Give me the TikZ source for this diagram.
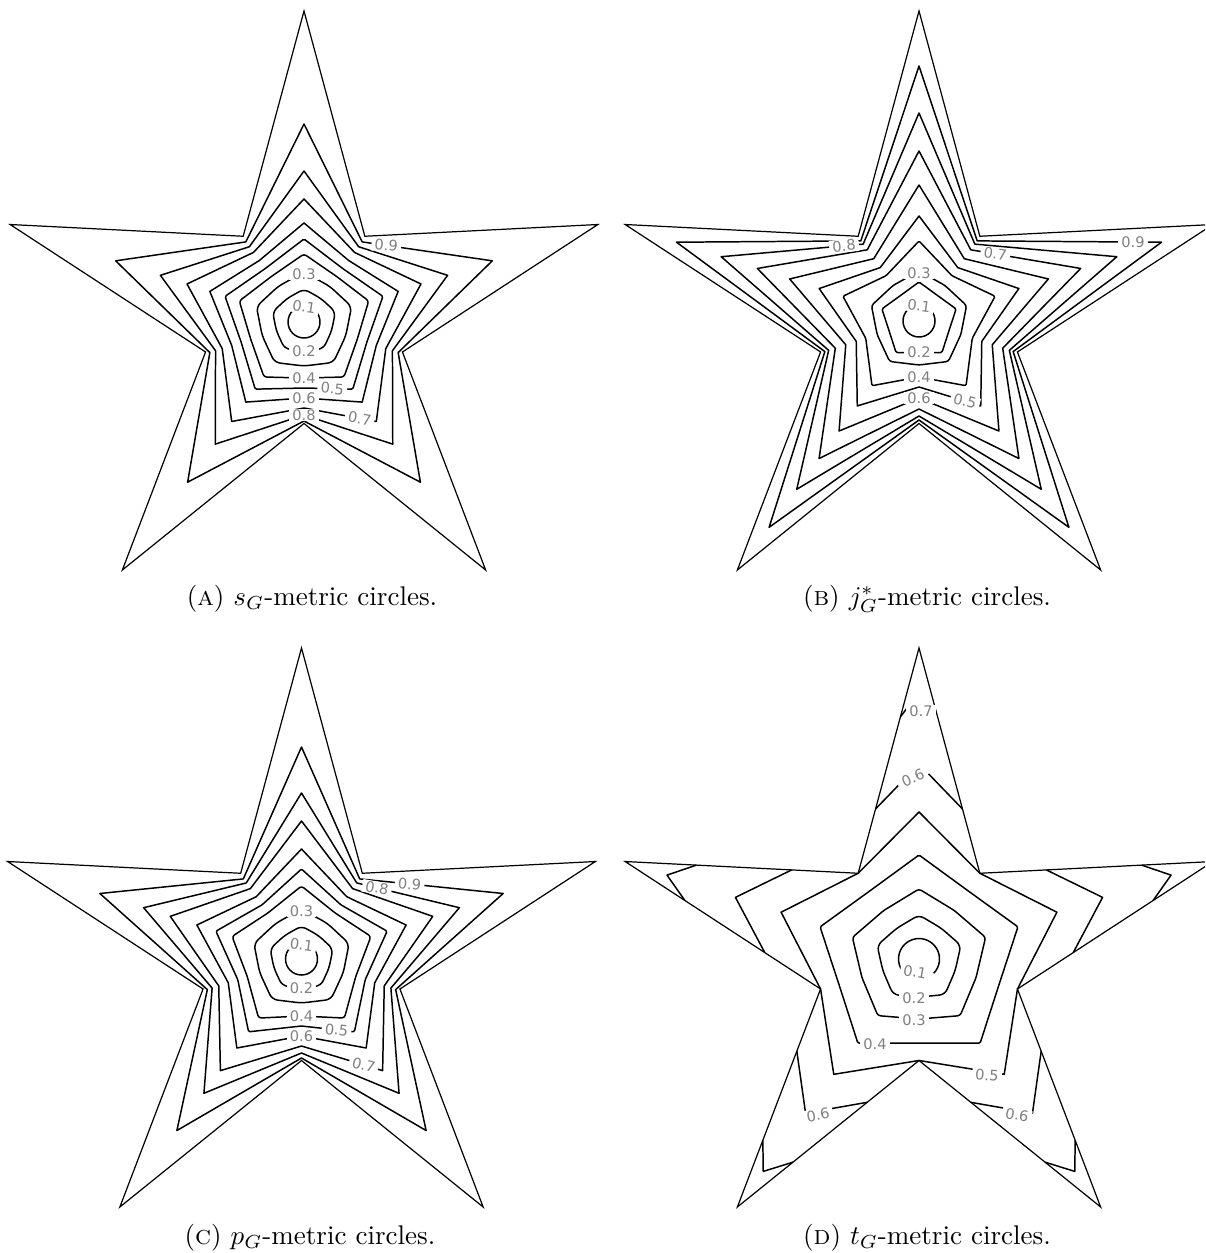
\documentclass[tikz,border=0pt]{standalone}
\usepackage{fontspec}
\newfontfamily\lblfont{DejaVu Sans}
\usetikzlibrary{calc}

% ten-point star polygon: tips at radius #2, notches at radius #3
\newcommand{\starpoly}[3][]{%
  \draw[#1] (-90:#2) -- (-54:#3) -- (-18:#2) -- (18:#3) -- (54:#2)
    -- (90:#3) -- (126:#2) -- (162:#3) -- (198:#2) -- (234:#3) -- cycle;}

\begin{document}
\begin{tikzpicture}[
x=0.37pt, y=-0.37pt,
outline/.style={line width=0.45pt},
contour/.style={line width=0.55pt, line join=round},
level/.style={font={\lblfont\fontsize{5.4}{6}\selectfont}, text=black!50, fill=white, inner xsep=1.2pt, inner ysep=0.3pt},
caption/.style={font={\fontsize{10}{12}\selectfont}, anchor=base}
]
\useasboundingbox (0,0) rectangle (1205,1253);
\clip (0,0) rectangle (1205,1253);

% (a) s_G-metric circles
\begin{scope}[shift={(304,320)}]
  \starpoly[outline]{309}{103.5}
\end{scope}
\begin{scope}[shift={(304,322)}]
  \draw[contour] (0,0) circle (16);
  \foreach \a/\b/\rc in {33/29/2, 50/44/2, 68/56/1, 83/66/0.5, 99/76/0, 123/86/0, 151/93/0, 198/99/0}
    \starpoly[contour, rounded corners=\rc pt]{\a}{\b};
  \node[level, rotate=-8] (a1) at (-90:15) {0.1};
  \node[level] (a2) at (90:29) {0.2};
  \node[level] (a3) at (-90:48) {0.3};
  \node[level] (a4) at (90:56) {0.4};
  \node[level, rotate=-5] (a5) at ($(54:83)!0.42!(90:66)$) {0.5};
  \node[level] (a6) at (90:76) {0.6};
  \node[level, rotate=-10] (a7) at ($(54:123)!0.23!(90:86)$) {0.7};
  \node[level] (a8) at (90:93) {0.8};
  \node[level, rotate=-5] (a9) at ($(-54:99)!0.185!(-18:198)$) {0.9};
\end{scope}

% (b) j*_G-metric circles
\begin{scope}[shift={(919,320)}]
  \starpoly[outline]{309}{103.5}
\end{scope}
\begin{scope}[shift={(919,321)}]
  \draw[contour] (0,0) circle (16);
  \foreach \a/\b/\rc in {39/31.5/0.5, 50/44/1, 80/56/0.5, 105/66/0, 136/77/0, 170/88/0, 208/95/0, 255/99/0}
    \starpoly[contour, rounded corners=\rc pt]{\a}{\b};
  \node[level, rotate=-8] (b1) at (-90:15) {0.1};
  \node[level] (b2) at (90:31.5) {0.2};
  \node[level] (b3) at (-90:48) {0.3};
  \node[level] (b4) at (90:56) {0.4};
  \node[level, rotate=-15] (b5) at ($(54:105)!0.254!(90:66)$) {0.5};
  \node[level] (b6) at (90:77) {0.6};
  \node[level, rotate=-8] (b7) at ($(-54:88)!0.223!(-18:170)$) {0.7};
  \node[level, rotate=5] (b8) at ($(234:95)!0.135!(198:208)$) {0.8};
  \node[level] (b9) at ($(-54:99)!0.845!(-18:255)$) {0.9};
\end{scope}

% (c) p_G-metric circles
\begin{scope}[shift={(301.5,957)}]
  \starpoly[outline]{309}{103.5}
\end{scope}
\begin{scope}[shift={(301.5,959)}]
  \draw[contour] (0,0) circle (16);
  \foreach \a/\b/\rc in {33/29/2, 50/44/2, 73/57/1, 90/67/0.5, 110/77/0, 138/87/0, 166/94/0, 212/99/0}
    \starpoly[contour, rounded corners=\rc pt]{\a}{\b};
  \node[level, rotate=-8] (c1) at (-90:14) {0.1};
  \node[level] (c2) at (90:29) {0.2};
  \node[level] (c3) at (-90:48) {0.3};
  \node[level] (c4) at (90:57) {0.4};
  \node[level, rotate=-5] (c5) at ($(54:90)!0.338!(90:67)$) {0.5};
  \node[level] (c6) at (90:77) {0.6};
  \node[level, rotate=-15] (c7) at ($(54:138)!0.234!(90:87)$) {0.7};
  \node[level, rotate=-10] (c8) at ($(-54:94)!0.197!(-18:166)$) {0.8};
  \node[level, rotate=-5] (c9) at ($(-54:99)!0.348!(-18:212)$) {0.9};
\end{scope}

% (d) t_G-metric circles
\begin{scope}[shift={(919,957)}]
  \starpoly[outline]{309}{103.5}
  % level 0.5 runs through the notches
  \starpoly[contour]{145}{103.5}
  % levels 0.6 and 0.7 cross the arms
  \foreach \ang in {-18,54,126,198} {
    \draw[contour] ($(\ang:309)!0.7146!(\ang-36:103.5)$) -- (\ang:193)
      -- ($(\ang:309)!0.7146!(\ang+36:103.5)$);
    \draw[contour] ($(\ang:309)!0.306!(\ang-36:103.5)$) -- (\ang:265)
      -- ($(\ang:309)!0.306!(\ang+36:103.5)$);
  }
  % top arm, cut by the labels
  \coordinate (dl6) at ($(-90:309)!0.7146!(234:103.5)$);
  \coordinate (dr6) at ($(-90:309)!0.7146!(-54:103.5)$);
  \coordinate (dl7) at ($(-90:309)!0.306!(234:103.5)$);
  \draw[contour] (dl6) -- ($(dl6)!0.52!(-90:193)$);
  \draw[contour] (dr6) -- ($(dr6)!0.78!(-90:193)$);
  \draw[contour] (dl7) -- ($(dl7)!0.35!(-90:265)$);
\end{scope}
\begin{scope}[shift={(919,959)}]
  \draw[contour] (150:20.5) arc[start angle=150, end angle=404, radius=20.5];
  \foreach \a/\b/\rc in {44/38/2, 70/60/1, 104/84/0.5}
    \starpoly[contour, rounded corners=\rc pt]{\a}{\b};
\end{scope}
\node[level, rotate=-10] (d1) at (915,972) {0.1};
\node[level] (d2) at (914,998) {0.2};
\node[level] (d3) at (914,1020) {0.3};
\node[level] (d4) at (875,1044) {0.4};
\node[level, rotate=-5] (d5) at (987,1075) {0.5};
\node[level, rotate=10] (d6l) at (818,1115) {0.6};
\node[level, rotate=-10] (d6r) at (1017,1115) {0.6};
\node[level, rotate=23] (d6t) at (913,778) {0.6};
\node[level] (d7) at (921,711) {0.7};

% captions
\node[caption] (capa) at (312,605) {(\textsc{a}) $s_G$-metric circles.};
\node[caption] (capb) at (927,605) {(\textsc{b}) $j^*_G$-metric circles.};
\node[caption] (capc) at (310,1244) {(\textsc{c}) $p_G$-metric circles.};
\node[caption] (capd) at (927,1244) {(\textsc{d}) $t_G$-metric circles.};
\end{tikzpicture}
\end{document}
